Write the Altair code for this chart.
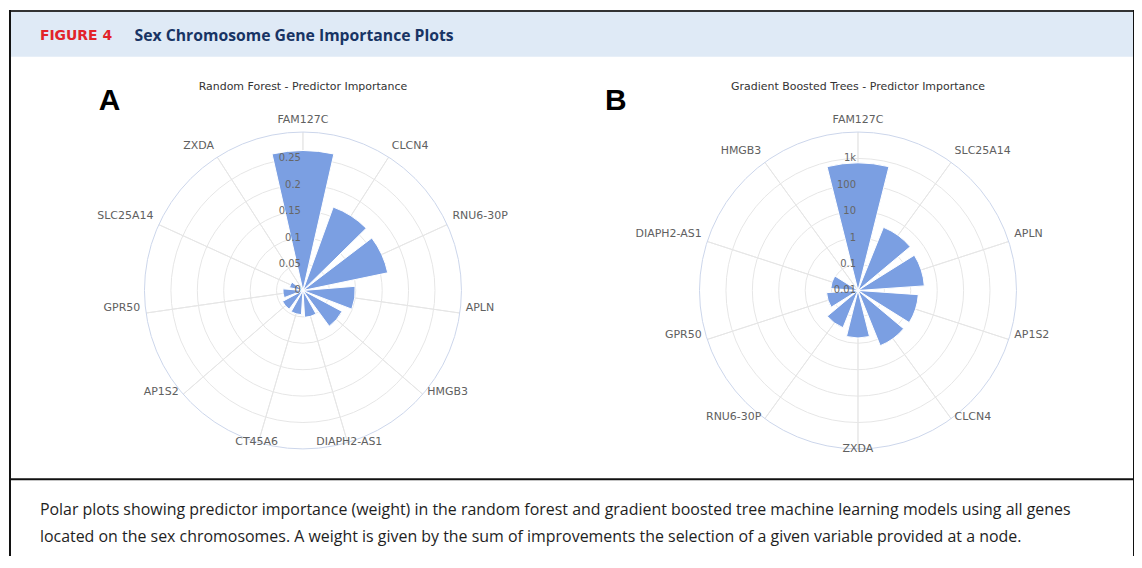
import math
import altair as alt
import pandas as pd

# ---------------- data ----------------
rf_genes = ["FAM127C", "CLCN4", "RNU6-30P", "APLN", "HMGB3", "DIAPH2-AS1",
            "CT45A6", "AP1S2", "GPR50", "SLC25A14", "ZXDA"]
rf_values = [0.265, 0.168, 0.164, 0.099, 0.084, 0.051, 0.046, 0.044, 0.038, 0.026, 0.003]
rf_ticks = [0, 0.05, 0.1, 0.15, 0.2, 0.25]
rf_tick_labels = ["0", "0.05", "0.1", "0.15", "0.2", "0.25"]
rf_rings = [0.05, 0.1, 0.15, 0.2, 0.25]
rf_max = 0.3

gb_genes = ["FAM127C", "SLC25A14", "APLN", "AP1S2", "CLCN4", "ZXDA",
            "RNU6-30P", "GPR50", "DIAPH2-AS1", "HMGB3"]
gb_values = [680, 3.8, 3.3, 1.95, 1.8, 0.63, 0.33, 0.156, 0.108, 0.012]
gb_ticks = [0.01, 0.1, 1, 10, 100, 1000]
gb_tick_labels = ["0.01", "0.1", "1", "10", "100", "1k"]
gb_rings = [0.1, 1, 10, 100, 1000]
gb_max = 10000

caption_lines = [
    "Polar plots showing predictor importance (weight) in the random forest and gradient boosted tree machine learning models using all genes",
    "located on the sex chromosomes. A weight is given by the sum of improvements the selection of a given variable provided at a node.",
]

# ---------------- style ----------------
W, H = 1130, 548
R = 159
BAR = "#7b9fe2"
GRID = "#e6e6e6"
OUTER = "#ccd6eb"
LABEL = "#606060"
FONT = "DejaVu Sans"
ONE = pd.DataFrame({"k": [0]})


def polar_panel(genes, values, ticks, tick_labels, rings, rmax, scale_type, cx, cy, title):
    n = len(genes)
    df = pd.DataFrame({"gene": genes, "value": values, "idx": list(range(n))})
    theta_scale = alt.Scale(domain=[-0.5, n - 0.5],
                            range=[-math.pi / n, 2 * math.pi - math.pi / n], zero=False)
    if scale_type == "log":
        r_scale = alt.Scale(type="log", domain=[ticks[0], rmax], range=[0, R], zero=False, nice=False)
    else:
        r_scale = alt.Scale(type="linear", domain=[0, rmax], range=[0, R], zero=False, nice=False)
    pos = dict(x=alt.value(cx), y=alt.value(cy))

    def rad(field):
        return alt.Radius(field, scale=r_scale, stack=None)

    def th(field):
        return alt.Theta(field, scale=theta_scale, stack=None)

    rings_layer = alt.Chart(pd.DataFrame({"r": rings})).mark_arc(
        fillOpacity=0, stroke=GRID, strokeWidth=1
    ).encode(theta=alt.value(0), theta2=alt.value(6.2832), radius=rad("r:Q"), **pos)

    outer_layer = alt.Chart(pd.DataFrame({"r": [rmax]})).mark_arc(
        fillOpacity=0, stroke=OUTER, strokeWidth=1
    ).encode(theta=alt.value(0), theta2=alt.value(6.2832), radius=rad("r:Q"), **pos)

    spokes = alt.Chart(df).transform_calculate(ro=str(rmax)).mark_arc(
        fillOpacity=0, stroke=GRID, strokeWidth=1
    ).encode(theta=th("idx:Q"), theta2="idx:Q", radius=rad("ro:Q"), **pos)

    bars = alt.Chart(df).transform_calculate(
        t0="datum.idx - 0.39", t1="datum.idx + 0.39"
    ).mark_arc(color=BAR, stroke="white", strokeWidth=1).encode(
        theta=th("t0:Q"), theta2="t1:Q", radius=rad("value:Q"),
        tooltip=["gene:N", "value:Q"], **pos)

    tick_text = alt.Chart(pd.DataFrame({"v": ticks, "lab": tick_labels})).mark_text(
        align="right", dx=-2, fontSize=10, color="#666666", font=FONT
    ).encode(theta=alt.value(0), radius=rad("v:Q"), text="lab:N", **pos)

    lab_base = alt.Chart(df).transform_calculate(deg=f"datum.idx * 360 / {n}")

    def labels(cond, align):
        return lab_base.transform_filter(cond).mark_text(
            align=align, baseline="middle", dy=-6, fontSize=11, color=LABEL, font=FONT
        ).encode(theta=th("idx:Q"), radius=alt.value(165), text="gene:N", **pos)

    lab_left = labels("datum.deg > 20 && datum.deg < 160", "left")
    lab_right = labels("datum.deg > 200 && datum.deg < 340", "right")
    lab_center = labels("datum.deg <= 20 || datum.deg >= 340 || (datum.deg >= 160 && datum.deg <= 200)", "center")

    title_t = alt.Chart(ONE).mark_text(
        text=title, fontSize=11, color="#333333", font=FONT, baseline="middle"
    ).encode(x=alt.value(cx), y=alt.value(77))

    return alt.layer(rings_layer, spokes, outer_layer, bars, tick_text,
                     lab_left, lab_right, lab_center, title_t)


panel_a = polar_panel(rf_genes, rf_values, rf_ticks, rf_tick_labels, rf_rings, rf_max,
                      "linear", 295, 281.5, "Random Forest - Predictor Importance")
panel_b = polar_panel(gb_genes, gb_values, gb_ticks, gb_tick_labels, gb_rings, gb_max,
                      "log", 852, 281.5, "Gradient Boosted Trees - Predictor Importance")

# ---------------- decoration ----------------
band = alt.Chart(ONE).mark_rect(color="#dfeaf6").encode(
    x=alt.value(1), x2=alt.value(1129), y=alt.value(1), y2=alt.value(47))
frame_top = alt.Chart(ONE).mark_rule(color="#333333", strokeWidth=2).encode(
    x=alt.value(0), x2=alt.value(1130), y=alt.value(1))
frame_left = alt.Chart(ONE).mark_rule(color="#111111", strokeWidth=2).encode(
    x=alt.value(1), y=alt.value(0), y2=alt.value(H))
frame_right = alt.Chart(ONE).mark_rule(color="#111111", strokeWidth=2).encode(
    x=alt.value(1129), y=alt.value(0), y2=alt.value(H))
sep = alt.Chart(ONE).mark_rule(color="#111111", strokeWidth=2).encode(
    x=alt.value(1), x2=alt.value(1129), y=alt.value(471))
fig_lab = alt.Chart(ONE).mark_text(
    text="FIGURE 4", font="DejaVu Sans", fontWeight="bold", fontSize=14,
    color="#e2232a", align="left", baseline="middle"
).encode(x=alt.value(31), y=alt.value(26))
fig_title = alt.Chart(ONE).mark_text(
    text="Sex Chromosome Gene Importance Plots", font="Open Sans", fontWeight="bold",
    fontSize=15.8, color="#183464", align="left", baseline="middle"
).encode(x=alt.value(126), y=alt.value(26))
letter_a = alt.Chart(ONE).mark_text(
    text="A", font="Liberation Sans", fontWeight="bold", fontSize=30, color="#000000",
    align="left", baseline="alphabetic"
).encode(x=alt.value(90), y=alt.value(100))
letter_b = alt.Chart(ONE).mark_text(
    text="B", font="Liberation Sans", fontWeight="bold", fontSize=30, color="#000000",
    align="left", baseline="alphabetic"
).encode(x=alt.value(598), y=alt.value(100))
cap1 = alt.Chart(ONE).mark_text(
    text=caption_lines[0], font="Open Sans", fontSize=16, color="#1e1e1e",
    align="left", baseline="middle"
).encode(x=alt.value(31), y=alt.value(502))
cap2 = alt.Chart(ONE).mark_text(
    text=caption_lines[1], font="Open Sans", fontSize=16, color="#1e1e1e",
    align="left", baseline="middle"
).encode(x=alt.value(31), y=alt.value(529))

chart = alt.layer(
    band, frame_top, frame_left, frame_right, sep, fig_lab, fig_title,
    letter_a, letter_b, cap1, cap2, panel_a, panel_b
).resolve_scale(theta="independent", radius="independent").properties(
    width=W, height=H, padding=0,
    autosize=alt.AutoSizeParams(type="fit", contains="padding")
).configure_view(strokeOpacity=0)

chart.save("out.html", embed_options={"renderer": "svg", "actions": False})
